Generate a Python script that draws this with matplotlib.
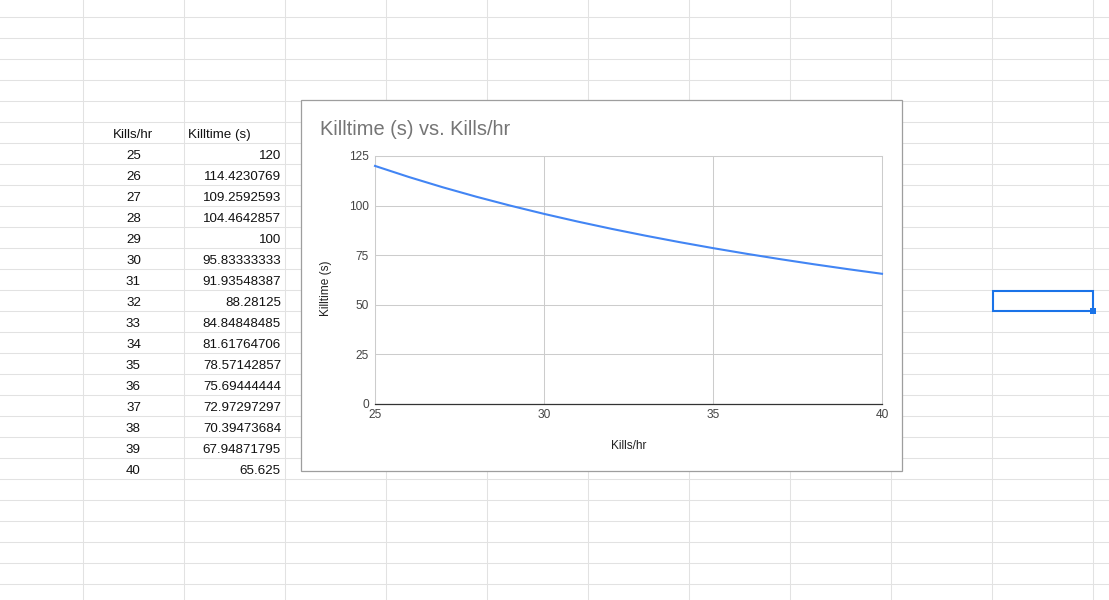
import matplotlib.pyplot as plt
from matplotlib.patches import Rectangle

# %% data (copied from the sheet)
kills_hr = [25, 26, 27, 28, 29, 30, 31, 32, 33, 34, 35, 36, 37, 38, 39, 40]
killtime = [120, 114.4230769, 109.2592593, 104.4642857, 100, 95.83333333,
            91.93548387, 88.28125, 84.84848485, 81.61764706, 78.57142857,
            75.69444444, 72.97297297, 70.39473684, 67.94871795, 65.625]
headers = ['Kills/hr', 'Killtime (s)']
x_ticks = [25, 30, 35, 40]
y_ticks = [0, 25, 50, 75, 100, 125]
chart_title = 'Killtime (s) vs. Kills/hr'

plt.rcParams['font.family'] = ['Liberation Sans', 'DejaVu Sans']

W, H = 1109, 600
fig = plt.figure(figsize=(W / 100, H / 100), dpi=100)
fig.patch.set_facecolor('white')

# %% spreadsheet background (pixel coords)
bg = fig.add_axes([0, 0, 1, 1])
bg.set_xlim(0, W)
bg.set_ylim(H, 0)
bg.axis('off')

grid_c = '#e2e2e2'
for x in range(83, W, 101):
    bg.axvline(x, color=grid_c, lw=0.75, zorder=1)
for y in range(17, H, 21):
    bg.axhline(y, color=grid_c, lw=0.75, zorder=1)

# table text (baseline 16px below the row top)
txt_c = '#111111'
hdr_base = 122 + 16
bg.text(133.5, hdr_base, headers[0], ha='center', va='baseline', fontsize=9.6, color=txt_c, zorder=2)
bg.text(188, hdr_base, headers[1], ha='left', va='baseline', fontsize=9.6, color=txt_c, zorder=2)
for i, (k, t) in enumerate(zip(kills_hr, killtime)):
    yb = 143 + 21 * i + 16
    bg.text(133.5, yb, str(k), ha='center', va='baseline', fontsize=9.6, color=txt_c, zorder=2)
    bg.text(281, yb, '{:.10g}'.format(t), ha='right', va='baseline', fontsize=9.6, color=txt_c, zorder=2)

# selected cell
bg.add_patch(Rectangle((993, 291), 100, 20, fill=False, ec='#1a73e8', lw=1.5, zorder=3))
bg.add_patch(Rectangle((1090, 308), 6, 6, fc='#1a73e8', ec='none', zorder=4))

# chart box
bg.add_patch(Rectangle((300.5, 99.5), 601, 371.5, fc='white', ec='#9e9e9e', lw=0.9, zorder=5))

# %% chart
L, R, T, B = 375, 882, 156, 404
ax = fig.add_axes([L / W, (H - B) / H, (R - L) / W, (B - T) / H])
ax.set_facecolor('none')
ax.plot(kills_hr, killtime, color='#4285f4', lw=1.5, zorder=3, clip_on=False)
ax.set_xlim(25, 40)
ax.set_ylim(0, 125)
ax.set_xticks(x_ticks)
ax.set_yticks(y_ticks)
ax.grid(True, color='#cccccc', lw=0.75)
ax.set_axisbelow(True)
for s in ['top', 'right', 'left']:
    ax.spines[s].set_color('#cccccc')
    ax.spines[s].set_linewidth(0.75)
ax.spines['bottom'].set_color('#333333')
ax.spines['bottom'].set_linewidth(0.9)
ax.spines['bottom'].set_zorder(4)
ax.tick_params(axis='both', length=0, labelsize=8.6, labelcolor='#444444')
ax.tick_params(axis='x', pad=3.5)
ax.tick_params(axis='y', pad=4.3)

# axis titles
ax.text(0.5, (B - 446) / (B - T), 'Kills/hr', transform=ax.transAxes,
        ha='center', va='center', fontsize=8.6, color='#222222')
ax.text((326 - L) / (R - L), (B - 288) / (B - T), 'Killtime (s)', transform=ax.transAxes,
        rotation=90, ha='center', va='center', fontsize=8.6, color='#222222')

fig.text(320 / W, (H - 135) / H, chart_title, ha='left', va='baseline',
         fontsize=14.4, color='#757575')

fig.savefig('out.png', dpi=100)
